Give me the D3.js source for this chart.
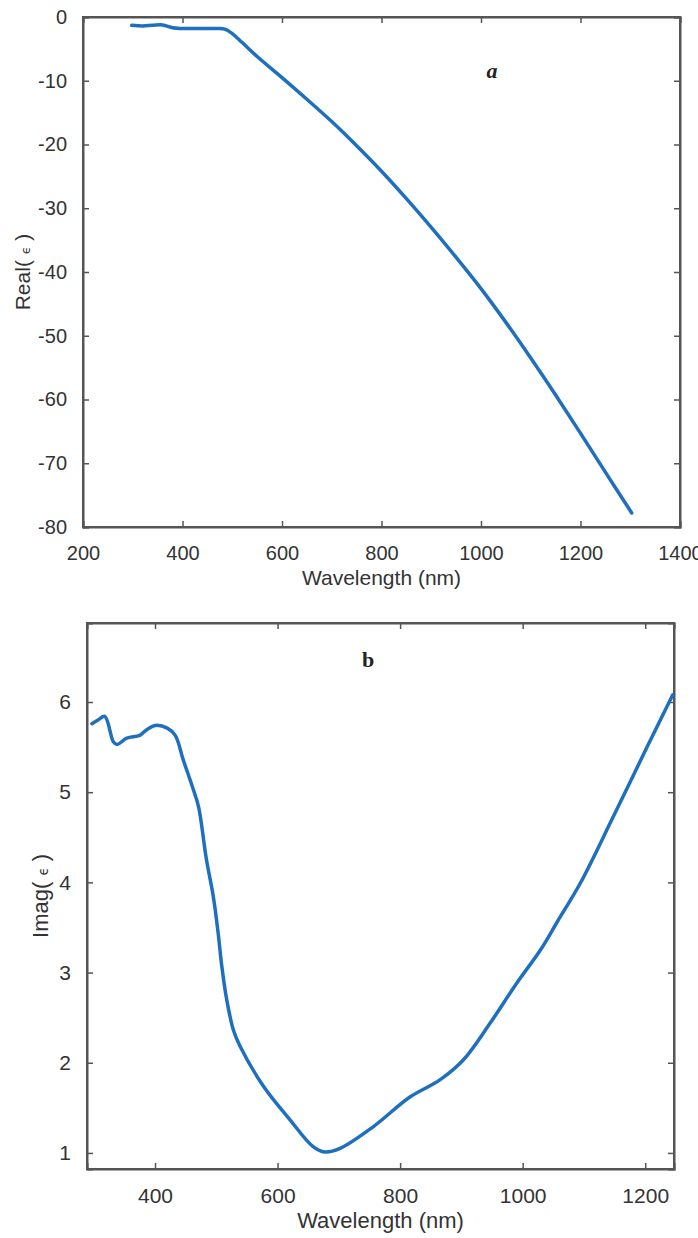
<!DOCTYPE html>
<html>
<head>
<meta charset="utf-8">
<script src="https://cdn.jsdelivr.net/npm/d3@7"></script>
<style>
  html, body { margin: 0; padding: 0; background: #fff; }
  svg { display: block; }
</style>
</head>
<body>
<svg id="chart" width="698" height="1238"></svg>
<script>
// ---------- Data ----------
// Panel a: real part of permittivity
const wavelengthA = [298, 320, 340, 360, 380, 400, 440, 470, 485, 500, 520, 550, 600, 650, 700, 750, 800, 850, 900, 950, 1000, 1050, 1100, 1150, 1200, 1250, 1303];
const realEps     = [-1.3, -1.4, -1.3, -1.25, -1.7, -1.8, -1.8, -1.8, -1.9, -2.6, -4.0, -6.2, -9.5, -12.9, -16.4, -20.2, -24.2, -28.5, -33.0, -37.7, -42.6, -47.9, -53.5, -59.3, -65.3, -71.4, -77.8];
// Panel b: imaginary part of permittivity
const wavelengthB = [297, 307, 318, 332, 338, 354, 375, 386, 400, 420, 433, 446, 462, 471, 484, 495, 503, 509, 517, 528, 539, 577, 620, 658, 677, 702, 756, 816, 865, 903, 947, 990, 1029, 1058, 1094, 1148, 1203, 1245];
const imagEps     = [5.76, 5.80, 5.84, 5.56, 5.53, 5.60, 5.63, 5.69, 5.74, 5.71, 5.63, 5.36, 5.04, 4.84, 4.25, 3.85, 3.44, 3.07, 2.70, 2.36, 2.18, 1.74, 1.37, 1.07, 1.01, 1.05, 1.29, 1.62, 1.81, 2.03, 2.44, 2.88, 3.25, 3.58, 3.99, 4.73, 5.50, 6.08];

const xTicksA = [200, 400, 600, 800, 1000, 1200, 1400];
const yTicksA = [0, -10, -20, -30, -40, -50, -60, -70, -80];
const xTicksB = [400, 600, 800, 1000, 1200];
const yTicksB = [1, 2, 3, 4, 5, 6];

const svg = d3.select("#chart");
const axisColor = "#555";
const textColor = "#333";
const lineColor = "#1f6fbf";
const fontFam = "'Liberation Sans', Arial, sans-serif";

function panel(opts) {
  const { left, right, top, bottom, xDomain, yDomain, xTicks, yTicks, xs, ys, fontSize, labelSize, xLabelY, yLabelX, yLabel, tag, tagX, tagY, tagStyle } = opts;
  const x = d3.scaleLinear().domain(xDomain).range([left, right]);
  const y = d3.scaleLinear().domain(yDomain).range([bottom, top]);
  const g = svg.append("g");
  const tl = 6;
  const fmt = d => String(d);

  const ax = g.append("g").attr("transform", `translate(0,${bottom})`)
    .call(d3.axisBottom(x).tickValues(xTicks).tickSize(-tl).tickPadding(13 + tl).tickFormat(fmt));
  const ay = g.append("g").attr("transform", `translate(${left},0)`)
    .call(d3.axisLeft(y).tickValues(yTicks).tickSize(-tl).tickPadding(10 + tl).tickFormat(fmt));
  const at = g.append("g").attr("transform", `translate(0,${top})`)
    .call(d3.axisTop(x).tickValues(xTicks).tickSize(-tl).tickFormat(""));
  const ar = g.append("g").attr("transform", `translate(${right},0)`)
    .call(d3.axisRight(y).tickValues(yTicks).tickSize(-tl).tickFormat(""));

  [ax, ay, at, ar].forEach(a => {
    a.select(".domain").attr("stroke", axisColor).attr("stroke-width", 2);
    a.selectAll(".tick line").attr("stroke", axisColor).attr("stroke-width", 1.5);
    a.selectAll(".tick text").attr("font-size", fontSize).attr("font-family", fontFam).attr("fill", textColor);
  });

  g.append("rect").attr("x", left).attr("y", top).attr("width", right - left).attr("height", bottom - top)
    .attr("fill", "none").attr("stroke", axisColor).attr("stroke-width", 2);

  const pts = xs.map((d, i) => [d, ys[i]]);
  g.append("path").datum(pts)
    .attr("fill", "none").attr("stroke", lineColor).attr("stroke-width", 3.5)
    .attr("stroke-linejoin", "round").attr("stroke-linecap", "round")
    .attr("d", d3.line().x(d => x(d[0])).y(d => y(d[1])).curve(d3.curveCatmullRom.alpha(0.5)));

  g.append("text").attr("x", (left + right) / 2).attr("y", xLabelY)
    .attr("text-anchor", "middle").attr("font-family", fontFam).attr("font-size", labelSize).attr("fill", textColor)
    .text("Wavelength (nm)");

  const yl = g.append("text")
    .attr("transform", `translate(${yLabelX},${(top + bottom) / 2}) rotate(-90)`)
    .attr("text-anchor", "middle").attr("font-family", fontFam).attr("font-size", labelSize).attr("fill", textColor);
  yl.append("tspan").text(yLabel + "( ");
  yl.append("tspan").attr("font-size", labelSize * 0.6).attr("font-family", "'DejaVu Sans', sans-serif").text("ϵ");
  yl.append("tspan").text(" )");

  g.append("text").attr("x", tagX).attr("y", tagY)
    .attr("font-family", "'Liberation Serif', 'DejaVu Serif', serif").attr("font-size", 22)
    .attr("font-style", tagStyle).attr("font-weight", "bold").attr("fill", "#222")
    .attr("text-anchor", "middle").text(tag);
}

panel({
  left: 83, right: 680, top: 17, bottom: 527,
  xDomain: [200, 1400], yDomain: [-80, 0],
  xTicks: xTicksA, yTicks: yTicksA,
  xs: wavelengthA, ys: realEps,
  fontSize: 20, labelSize: 21, xLabelY: 585, yLabelX: 30, yLabel: "Real",
  tag: "a", tagX: 492, tagY: 78, tagStyle: "italic"
});

panel({
  left: 87, right: 674, top: 623, bottom: 1169,
  xDomain: [289, 1247], yDomain: [0.822, 6.876],
  xTicks: xTicksB, yTicks: yTicksB,
  xs: wavelengthB, ys: imagEps,
  fontSize: 21, labelSize: 22, xLabelY: 1228, yLabelX: 48, yLabel: "Imag",
  tag: "b", tagX: 368, tagY: 667, tagStyle: "normal"
});
</script>
</body>
</html>
